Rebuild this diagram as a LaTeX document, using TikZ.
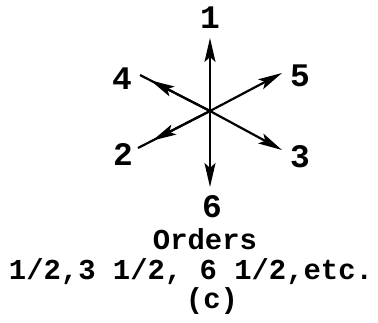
\documentclass[tikz,border=0pt]{standalone}
\usepackage{fontspec}
\setmonofont{Liberation Mono}
\usetikzlibrary{arrows.meta,calc}
\begin{document}
\begin{tikzpicture}[x=1bp,y=-1bp,
  lbl/.style={font=\ttfamily\bfseries\fontsize{33}{35}\selectfont, inner sep=0pt},
  txt/.style={font=\ttfamily\bfseries\fontsize{29}{31}\selectfont, inner sep=0pt, anchor=base},
  ray/.style={line width=2.2bp},
  tip/.style={-{Stealth[length=24bp,width=11bp,inset=5bp]}, line width=2.2bp}]
\useasboundingbox (0,0) rectangle (378,323);
\coordinate (c) at (210,111);
% ray ends
\coordinate (e1) at (210,38);
\coordinate (e4) at (140,75);
\coordinate (e5) at (282,73);
\coordinate (e2) at (138,148);
\coordinate (e3) at (282,150);
\coordinate (e6) at (210,187);
% arrowhead ends for rays 4 and 2
\coordinate (h4) at ($(c)!0.85!(e4)$);
\coordinate (h2) at ($(c)!0.8!(e2)$);
\draw[tip] (c) -- (e1);
\draw[tip] (c) -- (e5);
\draw[tip] (c) -- (e3);
\draw[tip] (c) -- (e6);
\draw[ray] (c) -- (e4);
\draw[ray] (c) -- (e2);
\draw[tip] (c) -- (h4);
\draw[tip] (c) -- (h2);
% labels
\node[lbl] (l1) at (210,18) {1};
\node[lbl] (l4) at (122,79) {4};
\node[lbl] (l5) at (300,76) {5};
\node[lbl] (l2) at (123,154) {2};
\node[lbl] (l3) at (300,157) {3};
\node[lbl] (l6) at (212,207) {6};
\node[txt] (ord) at (205,249) {Orders};
\node[txt] (ln) at (191,279) {1/2,3 1/2, 6 1/2,etc.};
\node[txt] (cc) at (212,308) {(c)};
\end{tikzpicture}
\end{document}
